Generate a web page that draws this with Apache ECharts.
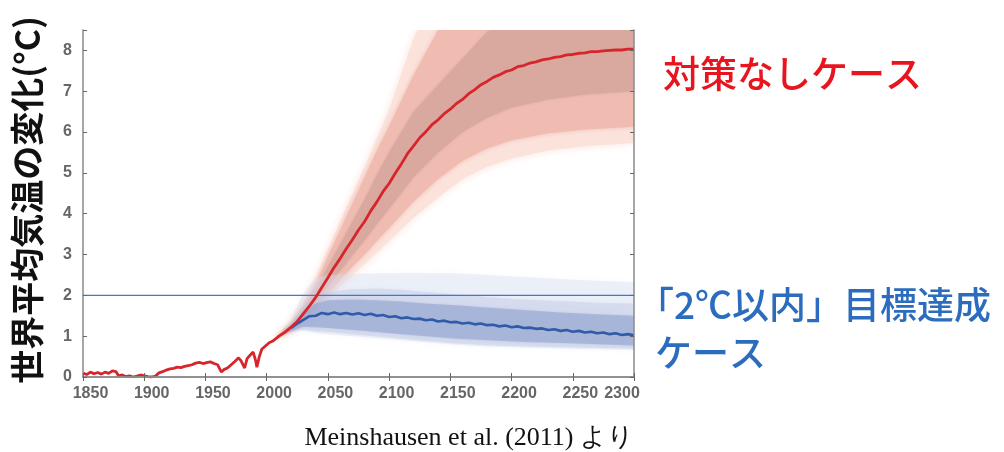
<!DOCTYPE html>
<html><head><meta charset="utf-8">
<script src="https://cdn.jsdelivr.net/npm/echarts@6/dist/echarts.min.js"></script>
<style>html,body{margin:0;padding:0;background:#fff}#c{width:1004px;height:452px}</style>
</head><body><div id="c"></div>
<script>
// ---- data ----
var xTicks = [1850, 1900, 1950, 2000, 2050, 2100, 2150, 2200, 2250, 2300];
var yTicks = [0, 1, 2, 3, 4, 5, 6, 7, 8];
var yAxisTitle = '世界平均気温の変化(°C)';
var redLabel = '対策なしケース';
var blueLabel1 = '「2℃以内」目標達成';
var blueLabel2 = 'ケース';
var sourceText = 'Meinshausen et al. (2011) より';
var targetLevel = 2;

var histYears = [1850,1853,1856,1859,1862,1865,1868,1871,1874,1877,1879,1882,1885,1888,1891,1894,1897,1900,1903,1906,1909,1912,1915,1918,1921,1924,1927,1930,1933,1936,1939,1942,1945,1948,1951,1954,1957,1960,1963,1965,1968,1971,1974,1977,1979,1982,1984,1987,1989,1991,1992,1994,1996,1999,2002,2005,2008];
var histTemp  = [0.10,0.06,0.12,0.08,0.11,0.07,0.12,0.09,0.15,0.13,0.03,0.05,0.01,0.03,0.00,0.02,0.05,0.03,0.01,0.00,0.02,0.10,0.13,0.17,0.20,0.21,0.24,0.23,0.26,0.28,0.30,0.34,0.36,0.33,0.35,0.37,0.33,0.30,0.12,0.18,0.22,0.30,0.38,0.47,0.40,0.22,0.45,0.55,0.61,0.40,0.24,0.50,0.68,0.76,0.84,0.88,0.95];

var projYears = [2010,2015,2020,2025,2030,2035,2040,2045,2050,2055,2060,2065,2070,2075,2080,2085,2090,2095,2100,2105,2110,2115,2120,2125,2130,2135,2140,2145,2150,2155,2160,2165,2170,2175,2180,2185,2190,2195,2200,2205,2210,2215,2220,2225,2230,2235,2240,2245,2250,2255,2260,2265,2270,2275,2280,2285,2290,2295,2300];
var redProj = [1.00,1.10,1.22,1.36,1.55,1.74,1.95,2.19,2.43,2.68,2.90,3.14,3.36,3.60,3.81,4.07,4.29,4.54,4.74,4.99,5.22,5.47,5.66,5.86,6.01,6.18,6.30,6.45,6.56,6.70,6.80,6.94,7.04,7.16,7.24,7.34,7.40,7.48,7.52,7.60,7.63,7.69,7.72,7.77,7.79,7.83,7.85,7.89,7.90,7.93,7.94,7.97,7.97,7.99,8.00,8.01,8.01,8.03,8.03];

var blueYears = [2020,2025,2030,2035,2040,2045,2050,2055,2060,2065,2070,2075,2080,2085,2090,2095,2100,2105,2110,2115,2120,2125,2130,2135,2140,2145,2150,2155,2160,2165,2170,2175,2180,2185,2190,2195,2200,2205,2210,2215,2220,2225,2230,2235,2240,2245,2250,2255,2260,2265,2270,2275,2280,2285,2290,2295,2300];
var blueProj = [1.20,1.31,1.40,1.49,1.50,1.57,1.54,1.58,1.54,1.57,1.53,1.56,1.52,1.55,1.50,1.52,1.47,1.49,1.44,1.46,1.42,1.43,1.39,1.41,1.36,1.38,1.34,1.35,1.31,1.33,1.29,1.31,1.27,1.28,1.24,1.26,1.22,1.24,1.20,1.21,1.18,1.19,1.15,1.17,1.13,1.15,1.11,1.13,1.09,1.11,1.07,1.09,1.05,1.07,1.03,1.05,1.02];

// red uncertainty bands
var redBandYears = [2008,2020,2030,2040,2050,2060,2070,2080,2090,2100,2120,2140,2160,2180,2200,2230,2260,2300];
var redDarkLo   = [0.95,1.17,1.45,1.80,2.22,2.60,2.98,3.35,3.75,4.12,4.90,5.50,6.00,6.35,6.60,6.80,6.92,7.00];
var redDarkHi   = [0.97,1.28,1.66,2.12,2.70,3.25,3.80,4.35,4.95,5.50,6.50,7.15,7.80,8.45,8.80,9.10,9.30,9.40];
var redMidLo    = [0.94,1.13,1.38,1.68,2.05,2.38,2.70,3.00,3.33,3.65,4.30,4.85,5.30,5.60,5.80,5.97,6.06,6.13];
var redMidHi    = [0.98,1.32,1.76,2.28,2.95,3.60,4.25,4.90,5.55,6.15,7.40,8.50,9.30,9.90,10.3,10.6,10.8,10.9];
var redOutLo    = [0.93,1.10,1.33,1.60,1.93,2.22,2.50,2.77,3.05,3.33,3.90,4.40,4.85,5.15,5.35,5.55,5.65,5.73];
var redOutHi    = [0.99,1.36,1.84,2.42,3.12,3.80,4.48,5.15,5.85,6.55,8.30,9.50,10.3,10.8,11.2,11.5,11.7,11.8];

// blue uncertainty bands
var blueBandYears = [2015,2020,2025,2030,2040,2050,2070,2090,2110,2130,2155,2180,2210,2240,2270,2300];
var blueDarkLo  = [1.08,1.12,1.18,1.23,1.22,1.20,1.15,1.10,1.05,1.00,0.94,0.90,0.86,0.83,0.80,0.77];
var blueDarkHi  = [1.12,1.28,1.42,1.60,1.80,1.88,1.90,1.88,1.85,1.80,1.76,1.70,1.64,1.58,1.54,1.50];
var blueMidLo   = [1.07,1.10,1.14,1.16,1.12,1.10,1.04,0.99,0.94,0.88,0.82,0.78,0.75,0.73,0.71,0.69];
var blueMidHi   = [1.13,1.32,1.50,1.72,1.95,2.08,2.15,2.17,2.14,2.08,2.02,1.96,1.90,1.86,1.82,1.80];
var blueOutLo   = [1.07,1.09,1.12,1.13,1.08,1.05,1.00,0.95,0.90,0.85,0.79,0.75,0.72,0.70,0.68,0.66];
var blueOutHi   = [1.14,1.40,1.75,2.05,2.42,2.50,2.52,2.54,2.55,2.55,2.54,2.50,2.45,2.40,2.36,2.33];

// ---- chart ----
function pairs(xs, ys) { return xs.map(function (x, i) { return [x, ys[i]]; }); }
function band(name, xs, lo, hi, color, blur, z) {
  return {
    name: name, type: 'custom', clip: true, silent: true, z: z,
    data: [[xs[0], lo[0]]],
    renderItem: function (params, api) {
      var pts = [];
      for (var i = 0; i < xs.length; i++) pts.push(api.coord([xs[i], hi[i]]));
      for (var j = xs.length - 1; j >= 0; j--) pts.push(api.coord([xs[j], lo[j]]));
      return { type: 'polygon', shape: { points: pts },
        style: { fill: color, shadowBlur: blur, shadowColor: color } };
    }
  };
}
var redLine = pairs(histYears.concat(projYears), histTemp.concat(redProj));
var blueLine = pairs(blueYears, blueProj);

var axisGrey = '#8a8a8a';
var labelStyle = { fontSize: 16, color: '#666', fontFamily: 'Liberation Sans', fontWeight: 'bold' };
var chart = echarts.init(document.getElementById('c'), null, { renderer: 'canvas' });
chart.setOption({
  animation: false,
  backgroundColor: '#ffffff',
  grid: { left: 83, top: 30, right: 370, bottom: 75, outerBoundsMode: 'none', containLabel: false },
  xAxis: [{
    type: 'value', min: xTicks[0], max: xTicks[xTicks.length - 1], interval: 50, z: 10,
    axisLine: { lineStyle: { color: axisGrey, width: 1.5 } },
    axisTick: { inside: true, length: 4, lineStyle: { color: '#666' } },
    splitLine: { show: false },
    axisLabel: {
      margin: 9,
      formatter: function (v) { return v === 2300 ? '{r|' + v + '}' : '{n|' + v + '}'; },
      rich: {
        n: Object.assign({ padding: [0, 0, 0, 15] }, labelStyle),
        r: Object.assign({ padding: [0, 24, 0, 0] }, labelStyle)
      }
    }
  }, {
    type: 'value', position: 'top', min: xTicks[0], max: xTicks[xTicks.length - 1], interval: 50, z: 10,
    axisLine: { lineStyle: { color: axisGrey, width: 1.5 } },
    axisTick: { inside: true, length: 4, lineStyle: { color: '#666' } },
    axisLabel: { show: false }, splitLine: { show: false }
  }],
  yAxis: [{
    type: 'value', min: 0, max: 8.5, interval: 1, z: 10,
    axisLine: { show: true, lineStyle: { color: axisGrey, width: 1.5 } },
    axisTick: { show: true, inside: true, length: 4, lineStyle: { color: '#666' } },
    splitLine: { show: false },
    axisLabel: Object.assign({ margin: 11,
      formatter: function (v) { return yTicks.indexOf(v) >= 0 ? String(v) : ''; } }, labelStyle)
  }, {
    type: 'value', position: 'right', min: 0, max: 8.5, interval: 1, z: 10,
    axisLine: { show: true, lineStyle: { color: axisGrey, width: 1.5 } },
    axisTick: { show: true, inside: true, length: 4, lineStyle: { color: '#666' } },
    axisLabel: { show: false }, splitLine: { show: false }
  }],
  series: [
    band('redOut', redBandYears, redOutLo, redOutHi, '#fbe3dc', 8, 1),
    band('redMid', redBandYears, redMidLo, redMidHi, '#f0bcb2', 5, 1),
    band('redDark', redBandYears, redDarkLo, redDarkHi, '#d9a99f', 3, 1),
    band('blueOut', blueBandYears, blueOutLo, blueOutHi, 'rgba(215,222,240,0.4)', 6, 2),
    band('blueMid', blueBandYears, blueMidLo, blueMidHi, 'rgba(190,200,228,0.4)', 4, 2),
    band('blueDark', blueBandYears, blueDarkLo, blueDarkHi, 'rgba(140,158,205,0.5)', 3, 2),
    { type: 'line', z: 3, silent: true, showSymbol: false, data: [[xTicks[0], targetLevel], [xTicks[xTicks.length - 1], targetLevel]],
      lineStyle: { color: '#3d78d6', width: 1.3 } },
    { type: 'line', z: 4, silent: true, showSymbol: false, data: blueLine,
      lineStyle: { color: '#2f5ba8', width: 2.6 } },
    { type: 'line', z: 5, silent: true, showSymbol: false, data: redLine,
      lineStyle: { color: '#d7262b', width: 2.8 } }
  ],
  graphic: [
    { type: 'text', x: 27, y: 200, rotation: Math.PI / 2,
      style: { text: yAxisTitle, fill: '#111', fontSize: 34, fontWeight: 'bold', fontFamily: 'Noto Sans CJK JP',
        align: 'center', verticalAlign: 'middle' } },
    { type: 'text', left: 663, top: 55, style: { text: redLabel, fill: '#e8141e', fontSize: 37, fontFamily: 'Noto Sans CJK JP', fontWeight: 500 } },
    { type: 'text', left: 637, top: 286, style: { text: blueLabel1, fill: '#2c6cbf', fontSize: 37, fontFamily: 'Noto Sans CJK JP', fontWeight: 500 } },
    { type: 'text', left: 655, top: 334, style: { text: blueLabel2, fill: '#2c6cbf', fontSize: 37, fontFamily: 'Noto Sans CJK JP', fontWeight: 500 } },
    { type: 'text', right: 370, top: 425, style: { text: sourceText, fill: '#111', fontSize: 26, fontFamily: 'Liberation Serif' } }
  ]
});
</script></body></html>
